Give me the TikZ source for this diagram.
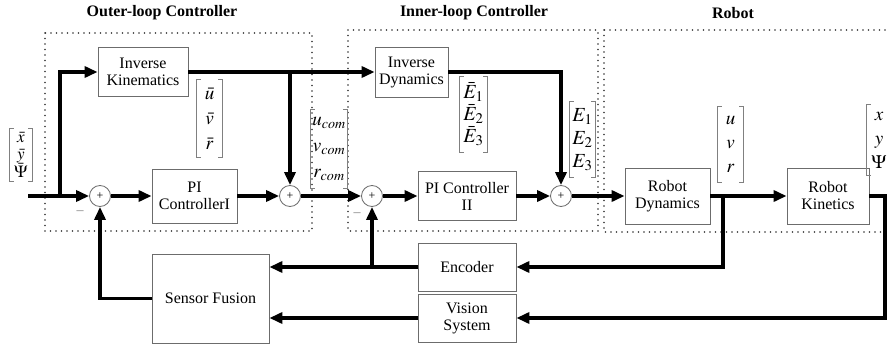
\documentclass[tikz,border=0pt]{standalone}
\usepackage{mathptmx}
\usepackage{fontspec}
\setmainfont{Liberation Serif}
\usetikzlibrary{arrows.meta,calc}
\newcommand\vfont[2]{\fontsize{#1}{#2}\selectfont}
\newcommand\brk[1]{%
  \draw[brk] ([xshift=4pt]#1.north west) -- (#1.north west) -- (#1.south west) -- ([xshift=4pt]#1.south west);
  \draw[brk] ([xshift=-4pt]#1.north east) -- (#1.north east) -- (#1.south east) -- ([xshift=-4pt]#1.south east);}
\begin{document}
\begin{tikzpicture}[x=1pt,y=-1pt,
 blk/.style={draw=gray!85!black, line width=0.8pt, fill=white, align=center, font=\fontsize{16}{17}\selectfont, inner sep=1pt},
 sumn/.style={circle, draw=gray!85!black, line width=0.8pt, fill=white, minimum size=21pt, inner sep=0pt, font=\fontsize{12}{12}\selectfont},
 sig/.style={line width=3.4pt, -{Triangle[length=13pt,width=11pt]}},
 wire/.style={line width=3.4pt},
 grp/.style={line width=1.8pt, dash pattern=on 0pt off 5.5pt, line cap=round, black!80},
 ttl/.style={font=\bfseries\fontsize{16}{18}\selectfont},
 vec/.style={align=center, inner sep=0pt},
 brk/.style={draw=gray, line width=0.9pt},
 mns/.style={font=\fontsize{14}{14}\selectfont, text=gray}
]
\clip (0,0) rectangle (887,348);
\fill[white] (0,0) rectangle (887,348);

% group frames
\draw[grp] (45,33) rectangle (312,231);
\draw[grp] (348,30) rectangle (598,231);
\draw[grp] (604,30) rectangle (900,232);
\node[ttl] (t1) at (162,13) {Outer-loop Controller};
\node[ttl] (t2) at (474,13) {Inner-loop Controller};
\node[ttl] (t3) at (733,13) {Robot};

% blocks
\node[blk, minimum width=90pt, minimum height=49pt] (ik) at (143,72) {Inverse\\Kinematics};
\node[blk, minimum width=85pt, minimum height=54pt] (pi1) at (194.5,196) {PI\\ControllerI};
\node[blk, minimum width=73pt, minimum height=50pt] (id) at (411.5,72) {Inverse\\Dynamics};
\node[blk, minimum width=98pt, minimum height=49pt] (pi2) at (467,196) {PI Controller\\II};
\node[blk, minimum width=85pt, minimum height=56pt] (rd) at (667.5,196) {Robot\\Dynamics};
\node[blk, minimum width=82pt, minimum height=56pt] (rk) at (828,196) {Robot\\Kinetics};
\node[blk, minimum width=98pt, minimum height=48pt] (enc) at (467,267) {Encoder};
\node[blk, minimum width=98pt, minimum height=48pt] (vis) at (467,318) {Vision\\System};
\node[blk, minimum width=117pt, minimum height=89pt] (sf) at (210.5,298.5) {Sensor Fusion};

% summing junctions
\node[sumn] (s1) at (100,196) {+};
\node[sumn] (s2) at (290,196) {+};
\node[sumn] (s3) at (372,196) {+};
\node[sumn] (s4) at (561,196) {+};
\node[mns] (m1) at (80,213) {--};
\node[mns] (m3) at (357,215) {--};

% coordinates
\coordinate (in) at (28,196);
\coordinate (b0) at (60,196);
\coordinate (c2) at (290,72);
\coordinate (b5) at (723,196);
\coordinate (b6) at (885,196);
\coordinate (b3) at (372,267);

% signals
\draw[sig] (in) -- (s1);
\draw[sig] (b0) |- (ik);
\draw[sig] (s1) -- (pi1);
\draw[sig] (pi1) -- (s2);
\draw[wire] (ik) -- (c2);
\draw[sig] (c2) -- (s2);
\draw[sig] (c2) -- (id);
\draw[sig] (s2) -- (s3);
\draw[sig] (s3) -- (pi2);
\draw[sig] (pi2) -- (s4);
\draw[sig] (id) -| (s4);
\draw[sig] (s4) -- (rd);
\draw[sig] (rd) -- (rk);
\draw[sig] (b5) |- (enc);
\draw[sig] (rk.east) -- (b6) |- (vis);
\draw[sig] (enc) -- (enc -| sf.east);
\draw[sig] (b3) -- (s3);
\draw[sig] (vis) -- (vis -| sf.east);
\draw[sig] (sf) -| (s1);

% vectors
\node[vec, minimum width=22pt, minimum height=52pt, font=\vfont{17}{17}] (v0) at (21,155) {$\bar{x}$\\$\bar{y}$\\$\bar{\Psi}$};
\node[vec, minimum width=25pt, minimum height=77pt, font=\vfont{19}{25}] (v1) at (209.5,118.5) {$\bar{u}$\\$\bar{v}$\\$\bar{r}$};
\node[vec, minimum width=36pt, minimum height=78pt, font=\vfont{19}{26}] (v2) at (329,149) {$u_{com}$\\$v_{com}$\\$r_{com}$};
\node[vec, minimum width=27pt, minimum height=75pt, font=\vfont{20}{22}] (v3) at (473.5,114.5) {$\bar{E}_1$\\$\bar{E}_2$\\$\bar{E}_3$};
\node[vec, minimum width=25pt, minimum height=75pt, font=\vfont{20}{23}] (v4) at (582.5,139.5) {$E_1$\\$E_2$\\$E_3$};
\node[vec, minimum width=25pt, minimum height=75pt, font=\vfont{19}{24}] (v5) at (730.5,144.5) {$u$\\$v$\\$r$};
\node[vec, minimum width=24pt, minimum height=70pt, font=\vfont{19}{24}] (v6) at (879,140) {$x$\\$y$\\$\Psi$};
\brk{v0}\brk{v1}\brk{v2}\brk{v3}\brk{v4}\brk{v5}\brk{v6}
\end{tikzpicture}
\end{document}
